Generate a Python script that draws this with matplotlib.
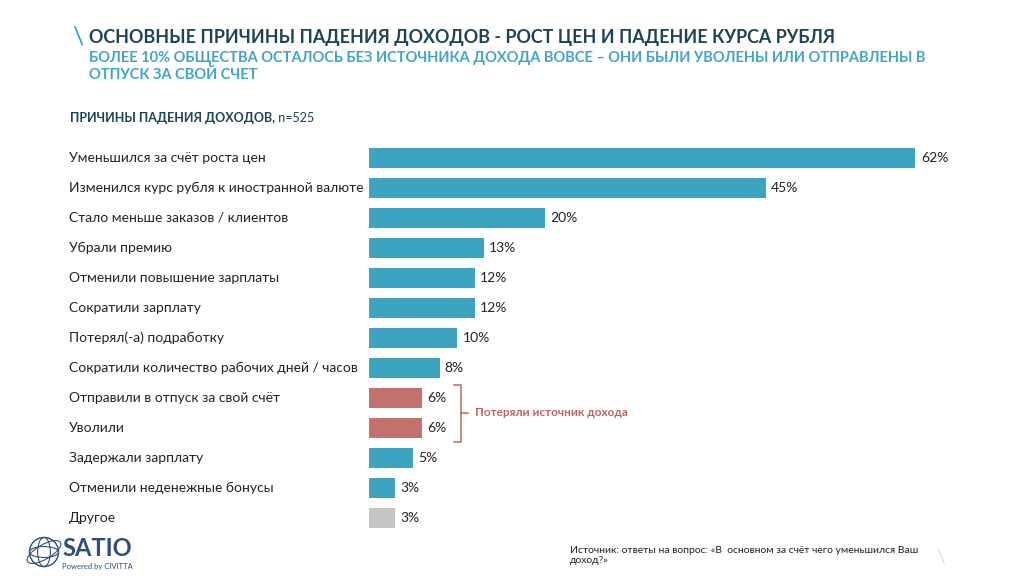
import matplotlib
matplotlib.use("Agg")
import matplotlib.pyplot as plt
from matplotlib.patches import Circle, Ellipse
import numpy as np

plt.rcParams['font.family'] = ['Lato', 'DejaVu Sans']

categories = [
    "Уменьшился за счёт роста цен",
    "Изменился курс рубля к иностранной валюте",
    "Стало меньше заказов / клиентов",
    "Убрали премию",
    "Отменили повышение зарплаты",
    "Сократили зарплату",
    "Потерял(-а) подработку",
    "Сократили количество рабочих дней / часов",
    "Отправили в отпуск за свой счёт",
    "Уволили",
    "Задержали зарплату",
    "Отменили неденежные бонусы",
    "Другое",
]
values = [62, 45, 20, 13, 12, 12, 10, 8, 6, 6, 5, 3, 3]
groups = ["main"] * 8 + ["lost", "lost"] + ["main", "main", "other"]
group_colors = {"main": "#3CA3C1", "lost": "#C2716D", "other": "#C4C4C4"}

title = "ОСНОВНЫЕ ПРИЧИНЫ ПАДЕНИЯ ДОХОДОВ - РОСТ ЦЕН И ПАДЕНИЕ КУРСА РУБЛЯ"
subtitle = "БОЛЕЕ 10% ОБЩЕСТВА ОСТАЛОСЬ БЕЗ ИСТОЧНИКА ДОХОДА ВОВСЕ – ОНИ БЫЛИ УВОЛЕНЫ ИЛИ ОТПРАВЛЕНЫ В\nОТПУСК ЗА СВОЙ СЧЕТ"
chart_label = "ПРИЧИНЫ ПАДЕНИЯ ДОХОДОВ,"
n_label = " n=525"
bracket_label = "Потеряли источник дохода"
source = "Источник: ответы на вопрос: «В  основном за счёт чего уменьшился Ваш\nдоход?»"

W, H = 1024, 576
fig = plt.figure(figsize=(W / 100, H / 100), dpi=100)
fig.patch.set_facecolor("white")

def fx(px):
    return px / W

def fy(py):
    return 1 - py / H

# axes: x 369..986 px, y 143..533 px
ax = fig.add_axes([fx(369), fy(533), fx(986) - fx(369), (533 - 143) / H])
ypos = np.arange(len(categories))
colors = [group_colors[g] for g in groups]
ax.barh(ypos, values, height=0.68, color=colors, edgecolor="none")
ax.set_xlim(0, 70)
ax.set_ylim(len(categories) - 0.5, -0.5)
ax.axis("off")

for i, v in enumerate(values):
    ax.text(v + 0.6, i, f"{v}%", va="center", ha="left", fontsize=10, color="#222222")

# category labels
for i, c in enumerate(categories):
    ax.text(-34.0, i, c, va="center", ha="left", fontsize=10, color="#222222",
            transform=ax.transData, clip_on=False)

# bracket
bx0, bx1 = 9.6, 10.4
ytop, ybot = 8 - 0.45, 9 + 0.45
ymid = (ytop + ybot) / 2
ax.plot([bx0, bx1, bx1, bx0], [ytop, ytop, ybot, ybot], color="#C2716D", lw=1.2,
        clip_on=False, solid_joinstyle="round")
ax.plot([bx1, bx1 + 0.8], [ymid, ymid], color="#C2716D", lw=1.2, clip_on=False)
ax.text(bx1 + 1.6, ymid, bracket_label, va="center", ha="left", fontsize=8.5,
        fontweight="bold", color="#C0625E", clip_on=False)

# titles
fig.text(fx(72), fy(37), "\\", fontsize=18, color="#22A5C0", va="center", ha="left")
fig.text(fx(89), fy(37), title, fontsize=12.9, fontweight="bold", color="#1C4456",
         va="center", ha="left")
fig.text(fx(89), fy(51), subtitle, fontsize=10.5, fontweight="bold", color="#3FA6C7",
         va="top", ha="left", linespacing=1.25)
t = fig.text(fx(70), fy(118), chart_label, fontsize=9, fontweight="bold", color="#1C4456",
             va="center", ha="left")
fig.canvas.draw()
bb = t.get_window_extent()
fig.text(bb.x1 / W, fy(118), n_label, fontsize=9, color="#1C4456", va="center", ha="left")

# source
fig.text(fx(570), fy(546), source, fontsize=7.5, color="#222222", va="top", ha="left",
         linespacing=1.15)
fig.text(fx(936), fy(558), "\\", fontsize=14, color="#CBE6EE", va="center", ha="left")

# logo
lax = fig.add_axes([fx(24), fy(572), 40 / W, 40 / H])
lax.set_xlim(-1.1, 1.1)
lax.set_ylim(-1.1, 1.1)
lax.set_aspect("equal")
lax.axis("off")
lc = "#2B4E7E"
lax.add_patch(Circle((0, 0), 0.8, fill=False, ec=lc, lw=1))
lax.add_patch(Ellipse((0, 0), 0.7, 1.6, fill=False, ec=lc, lw=0.8))
lax.add_patch(Ellipse((0, 0), 1.6, 0.6, fill=False, ec=lc, lw=0.8))
lax.add_patch(Ellipse((0, 0), 2.1, 0.8, angle=30, fill=False, ec=lc, lw=0.8))
fig.text(fx(62), fy(549), "SATIO", fontsize=17, fontweight="bold", color="#2B4E7E",
         va="center", ha="left")
fig.text(fx(62), fy(566), "Powered by CIVITTA", fontsize=5.5, color="#2B4E7E",
         va="center", ha="left")

fig.savefig("out.png", dpi=100, facecolor="white")
